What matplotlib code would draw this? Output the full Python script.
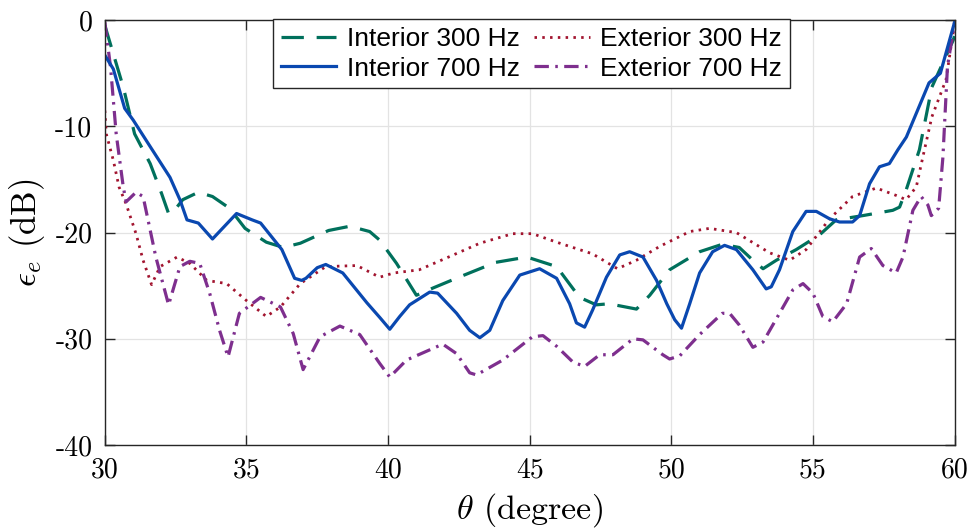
import matplotlib
matplotlib.use("Agg")
import matplotlib.pyplot as plt
from matplotlib.ticker import FixedLocator, FixedFormatter

# ---- data ----
th_int300 = [30.0, 30.65, 31.05, 31.6, 32.0, 32.25, 32.4, 32.75, 33.3, 33.8, 34.4, 34.95, 35.7, 36.3,
             36.9, 37.9, 38.65, 39.35, 39.7, 40.3, 41.0, 41.6, 42.5, 43.8, 44.9, 45.95, 46.76, 47.35,
             47.8, 48.77, 49.24, 49.94, 51.0, 51.8, 52.4, 52.88, 53.24, 53.71, 54.41, 55.24, 55.82,
             56.76, 57.82, 58.06, 58.29, 58.76, 59.2, 59.95, 60.0]
e_int300 = [-0.5, -6.3, -10.7, -13.5, -16.3, -18.2, -18.1, -16.9, -16.2, -16.6, -17.7, -19.6, -20.9, -21.4,
            -21.0, -19.8, -19.4, -19.9, -20.7, -22.9, -25.9, -25.2, -24.2, -22.8, -22.3, -23.2, -26.1, -26.8,
            -26.7, -27.2, -25.9, -23.5, -21.8, -21.1, -21.4, -22.6, -23.4, -22.6, -21.6, -20.2, -18.8,
            -18.4, -17.9, -17.6, -16.0, -12.2, -6.3, -1.9, -1.5]

th_int700 = [30.0, 30.3, 30.7, 31.0, 31.6, 32.3, 32.65, 32.9, 33.3, 33.8, 34.65, 35.2, 35.5, 35.8, 36.25,
             36.7, 36.95, 37.1, 37.5, 37.8, 38.4, 39.25, 39.71, 40.06, 40.41, 40.76, 41.47, 41.75, 42.42,
             42.88, 43.24, 43.59, 44.05, 44.65, 45.35, 45.95, 46.41, 46.65, 46.94, 47.22, 47.71, 48.18,
             48.53, 49.0, 49.48, 49.84, 50.12, 50.36, 50.65, 51.0, 51.46, 51.88, 52.3, 52.88, 53.35,
             53.53, 53.82, 54.29, 54.76, 55.12, 55.59, 55.94, 56.4, 56.65, 57.0, 57.35, 57.7, 58.0,
             58.3, 59.1, 59.5, 60.0]
e_int700 = [-3.3, -4.6, -8.3, -9.4, -11.9, -14.8, -16.9, -18.8, -19.1, -20.6, -18.2, -18.8, -19.1, -20.1, -21.6,
            -24.3, -24.5, -24.3, -23.3, -23.0, -23.8, -26.6, -28.0, -29.1, -27.9, -26.8, -25.6, -25.7, -27.6,
            -29.2, -29.9, -29.2, -26.4, -24.0, -23.4, -24.3, -26.7, -28.5, -28.9, -27.3, -24.2, -22.1,
            -21.8, -22.3, -24.5, -26.7, -28.2, -29.0, -26.7, -23.8, -21.8, -21.2, -21.6, -23.5, -25.3,
            -25.1, -23.5, -19.9, -18.0, -18.0, -18.7, -19.0, -19.0, -18.4, -15.4, -13.8, -13.5, -12.2,
            -11.0, -5.9, -5.0, -0.2]

th_ext300 = [30.0, 30.05, 30.3, 30.5, 30.75, 31.1, 31.35, 31.65, 31.95, 32.55, 33.0, 33.6, 34.3, 35.0,
             35.7, 36.2, 36.9, 37.8, 38.9, 39.7, 40.2, 41.1, 42.05, 43.24, 44.4, 45.1, 45.95, 47.22,
             48.1, 48.77, 49.59, 50.65, 51.35, 52.3, 53.47, 54.18, 54.76, 55.59, 56.4, 57.24, 57.94,
             58.29, 58.65, 58.88, 59.2, 59.7, 60.0]
e_ext300 = [-8.5, -10.7, -13.2, -15.7, -17.3, -20.1, -22.6, -24.9, -23.2, -22.3, -22.9, -24.5, -24.8, -26.4,
            -27.9, -27.0, -24.8, -23.2, -23.1, -24.2, -23.8, -23.5, -22.4, -21.0, -20.1, -20.1, -20.9, -22.0,
            -23.4, -22.6, -21.3, -19.9, -19.6, -20.0, -21.9, -22.6, -21.6, -18.7, -16.6, -15.8, -16.5,
            -16.9, -15.7, -12.9, -9.1, -5.6, -0.3]

th_ext700 = [30.0, 30.2, 30.4, 30.65, 30.75, 31.1, 31.35, 31.8, 32.25, 32.65, 33.0, 33.35, 33.7, 34.05,
             34.35, 34.75, 35.5, 36.2, 36.65, 37.0, 37.6, 38.3, 39.0, 39.7, 40.06, 40.65, 41.93, 42.42,
             42.88, 43.12, 44.05, 45.1, 45.47, 45.95, 46.53, 46.94, 47.47, 47.94, 48.65, 49.0, 49.7,
             49.94, 50.3, 51.0, 51.8, 52.06, 52.4, 52.88, 53.24, 53.82, 54.29, 54.65, 55.0, 55.35, 55.7,
             56.19, 56.65, 57.06, 57.47, 57.94, 58.18, 58.53, 58.82, 59.06, 59.18, 59.44, 59.59, 59.75, 60.0]
e_ext700 = [-0.2, -4.4, -10.7, -15.7, -17.1, -16.2, -16.6, -22.3, -26.8, -23.2, -22.7, -22.9, -25.7, -29.2,
            -31.7, -27.6, -26.1, -27.0, -29.5, -32.9, -29.8, -28.8, -29.6, -32.3, -33.6, -32.0, -30.5, -31.4,
            -33.2, -33.4, -32.0, -29.8, -29.7, -30.7, -32.2, -32.6, -31.5, -31.5, -30.0, -30.1, -31.5,
            -31.9, -31.6, -29.6, -27.6, -27.6, -28.7, -30.8, -30.3, -27.6, -25.4, -24.8, -25.7, -27.9, -28.4,
            -26.7, -22.3, -21.5, -23.1, -23.8, -22.3, -17.9, -16.6, -17.4, -18.4, -17.7, -12.9, -4.4, -0.2]

labels = ["Interior 300 Hz", "Interior 700 Hz", "Exterior 300 Hz", "Exterior 700 Hz"]
xticks = [30, 35, 40, 45, 50, 55, 60]
yticks = [0, -10, -20, -30, -40]
xticklabels = ["30", "35", "40", "45", "50", "55", "60"]
yticklabels = ["0", "-10", "-20", "-30", "-40"]

# ---- figure ----
plt.rcParams['mathtext.fontset'] = 'cm'
plt.rcParams['lines.solid_joinstyle'] = 'round'
plt.rcParams['lines.dash_joinstyle'] = 'round'
fig = plt.figure(figsize=(9.8, 5.32), dpi=100)
ax = fig.add_axes([0.107, 0.1635, 0.867, 0.7985])

c_green = '#00705C'
c_blue = '#0A48B0'
c_red = '#A2142F'
c_purple = '#7E2F8E'

l1, = ax.plot(th_int300, e_int300, color=c_green, lw=2.3, dashes=(7, 4), label=labels[0])
l3, = ax.plot(th_ext300, e_ext300, color=c_red, lw=2.0, dashes=(0.9, 1.9), label=labels[2])
l4, = ax.plot(th_ext700, e_ext700, color=c_purple, lw=2.3, dashes=(4.5, 2, 0.8, 2), label=labels[3])
l2, = ax.plot(th_int700, e_int700, color=c_blue, lw=2.3, label=labels[1])

ax.set_xlim(30, 60)
ax.set_ylim(-40, 0)
ax.xaxis.set_major_locator(FixedLocator(xticks))
ax.xaxis.set_major_formatter(FixedFormatter(xticklabels))
ax.yaxis.set_major_locator(FixedLocator(yticks))
ax.yaxis.set_major_formatter(FixedFormatter(yticklabels))
ax.grid(True, color='#e3e3e3', lw=0.9)
ax.set_axisbelow(True)
ax.tick_params(direction='in', length=7, width=1, colors='#262626', top=True, right=True,
               labelsize=20, pad=9)
for lab in ax.get_xticklabels() + ax.get_yticklabels():
    lab.set_family('cmr10')
    lab.set_color('black')
for sp in ax.spines.values():
    sp.set_color('#262626')
    sp.set_linewidth(1.0)

ax.set_xlabel(r'$\theta$ (degree)', fontsize=24.5, family='cmr10', labelpad=5)
ax.set_ylabel(r'$\epsilon_e$ (dB)', fontsize=25, family='cmr10', labelpad=6)

leg = ax.legend(handles=[l1, l2, l3, l4], labels=[labels[0], labels[1], labels[2], labels[3]],
                ncol=2, loc='upper center', bbox_to_anchor=(0.502, 1.002),
                prop={'family': 'Liberation Sans', 'size': 19},
                frameon=True, fancybox=False, framealpha=1, edgecolor='#262626',
                handlelength=2.1, handletextpad=0.4, columnspacing=0.55, borderpad=0.3,
                labelspacing=0.2, borderaxespad=0)
leg.get_frame().set_linewidth(1.0)

fig.savefig('out.png', dpi=100)
